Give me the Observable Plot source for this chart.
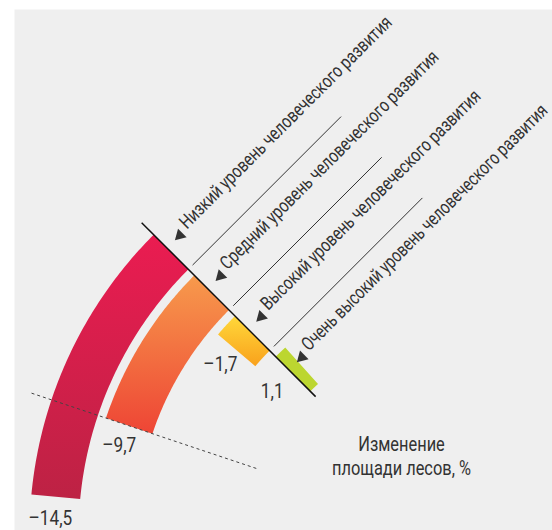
<!DOCTYPE html>
<html><head><meta charset="utf-8">
<script src="https://cdn.jsdelivr.net/npm/d3@7"></script>
<script src="https://cdn.jsdelivr.net/npm/@observablehq/plot@0.6"></script>
<style>
body{margin:0;background:#fff;}
#chart{width:552px;height:530px;}
</style></head><body><div id="chart"></div>
<script>
// ---- data ----
const categories = [
  "Низкий уровень человеческого развития",
  "Средний уровень человеческого развития",
  "Высокий уровень человеческого развития",
  "Очень высокий уровень человеческого развития"
];
const values = [-14.5, -9.7, -1.7, 1.1];
const valueLabels = ["–14,5", "–9,7", "–1,7", "1,1"];
const axisNote = "Изменение\nплощади лесов, %";

// ---- styles ----
const gradientTop = ["#ea1c51", "#f79a4c", "#ffd83a", "#bcd630"];
const gradientBottom = ["#bd2244", "#ee4535", "#f9a11c", "#bcd630"];
const FONT = "Roboto, 'Liberation Sans', sans-serif";
const CONDENSE = 0.82;      // horizontal squeeze to mimic a condensed face
const CAT_CONDENSE = 0.79;
const INK = "#333";

// ---- layout ----
const W = 552, H = 530, CX = 453, CY = 534, PANEL_L = 14, PANEL_T = 9;
const BASE_DEG = 135, DEG_PER_UNIT = 2.73;
const R_OUTER = 424, RING_STEP = 57.5, RING_WIDTH = 49;
const CAT_FS = 19, VAL_FS = 21, NOTE_FS = 20;

const rad = d => d * Math.PI / 180;
const ang = v => rad(BASE_DEG - v * DEG_PER_UNIT);
const polar = (r, a) => [r * Math.cos(a), r * Math.sin(a)];
const tangentPt = (r, t) => { const a = ang(0); return [r * Math.cos(a) + t * Math.sin(a), r * Math.sin(a) - t * Math.cos(a)]; };

const rings = values.map((v, i) => {
  const outer = R_OUTER - i * RING_STEP, inner = outer - RING_WIDTH;
  return {i, v, outer, inner, mid: (outer + inner) / 2, label: valueLabels[i], cat: categories[i]};
});

function sectorPoints(d) {
  const N = 80, pts = [];
  for (let k = 0; k <= N; k++) pts.push(polar(d.outer, ang(d.v * k / N)));
  for (let k = N; k >= 0; k--) pts.push(polar(d.inner, ang(d.v * k / N)));
  pts.push(pts[0]);
  return pts;
}

const sectorMarks = rings.map(d => Plot.line(sectorPoints(d), {
  x: p => p[0], y: p => p[1], fill: `url(#grad${d.i})`, stroke: "none", curve: "linear"
}));

const separators = rings.slice(0, 3).map(d => ({a: tangentPt(d.inner, 6), b: tangentPt(d.inner, 216)}));
const baseLine = [{a: polar(195, ang(0)), b: polar(441, ang(0))}];
const guideLine = [{a: polar(208, ang(values[1])), b: polar(445, ang(values[1]))}];

function valuePos(d) {
  const r = d.mid + 4;
  const a = d.v < 0 ? ang(d.v) + 21.5 / r : ang(0) + 27 / r;
  return polar(r, a);
}
const catPos = d => tangentPt(d.mid + 4.5 + 0.32 * CAT_FS, 27);

const svg = Plot.plot({
  width: W, height: H,
  marginLeft: PANEL_L, marginTop: PANEL_T, marginRight: 0, marginBottom: 0,
  x: {domain: [PANEL_L - CX, W - CX], axis: null},
  y: {domain: [CY - H, CY - PANEL_T], axis: null},
  style: {background: "transparent", fontFamily: FONT},
  marks: [
    Plot.frame({fill: "#efefef", stroke: "none"}),
    ...sectorMarks,
    Plot.link(guideLine, {x1: d => d.a[0], y1: d => d.a[1], x2: d => d.b[0], y2: d => d.b[1], stroke: "#444", strokeWidth: 1, strokeDasharray: "3,3"}),
    Plot.link(separators, {x1: d => d.a[0], y1: d => d.a[1], x2: d => d.b[0], y2: d => d.b[1], stroke: INK, strokeWidth: 1}),
    Plot.link(baseLine, {x1: d => d.a[0], y1: d => d.a[1], x2: d => d.b[0], y2: d => d.b[1], stroke: "#111", strokeWidth: 1.5}),
    Plot.dot(rings, {x: d => tangentPt(d.mid + 5.5, 18)[0], y: d => tangentPt(d.mid + 5.5, 18)[1], symbol: "triangle", r: 4.5, fill: INK, stroke: "none", rotate: 225}),
    Plot.text(rings, {x: d => catPos(d)[0], y: d => catPos(d)[1], text: "cat", rotate: -45, textAnchor: "start", fontSize: CAT_FS, fill: INK, className: "cat-label"}),
    Plot.text(rings, {x: d => valuePos(d)[0], y: d => valuePos(d)[1], text: "label", fontSize: VAL_FS, fill: INK}),
    Plot.text([axisNote], {x: () => 401 - CX, y: () => CY - 455.3, text: d => d, fontSize: NOTE_FS, lineHeight: 1.2, fill: INK})
  ]
});

const ns = "http://www.w3.org/2000/svg";
const defs = document.createElementNS(ns, "defs");
rings.forEach(d => {
  const g = document.createElementNS(ns, "linearGradient");
  g.setAttribute("id", `grad${d.i}`);
  g.setAttribute("x1", 0); g.setAttribute("y1", 0); g.setAttribute("x2", 0); g.setAttribute("y2", 1);
  [[0, gradientTop[d.i]], [1, gradientBottom[d.i]]].forEach(([o, c]) => {
    const s = document.createElementNS(ns, "stop");
    s.setAttribute("offset", o); s.setAttribute("stop-color", c);
    g.appendChild(s);
  });
  defs.appendChild(g);
});
svg.insertBefore(defs, svg.firstChild);
document.getElementById("chart").appendChild(svg);

// condense every text horizontally (along its own direction); rotated category
// labels are squeezed a little more if their glyphs would run past the right edge
svg.querySelectorAll("text").forEach(t => {
  const isCat = t.closest(".cat-label") !== null;
  const tr = t.getAttribute("transform") || "";
  let s = isCat ? CAT_CONDENSE : CONDENSE;
  if (isCat) {
    const m = /translate\(([-\d.e]+),\s*([-\d.e]+)\)/.exec(tr);
    if (m) {
      const x0 = +m[1], L = t.getComputedTextLength();
      const rise = (0.75 - 0.32) * CAT_FS * Math.SQRT1_2; // glyph top beyond anchor line
      const maxS = (W - 2 - rise - x0) / (L * Math.SQRT1_2);
      s = Math.min(s, maxS);
    }
  }
  t.setAttribute("transform", `${tr} scale(${s},1)`);
});
</script></body></html>
